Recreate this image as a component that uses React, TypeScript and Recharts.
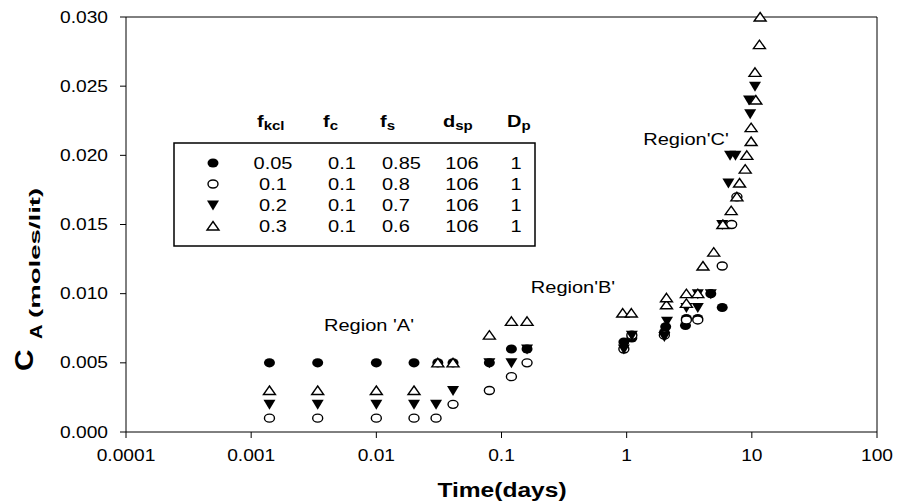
import React from "react"
import { ScatterChart, Scatter, XAxis, YAxis, ReferenceLine, Customized } from "recharts"

// time (days) / C_A (moles/lit) per run
const tKcl005 = [0.0014, 0.0034, 0.01, 0.02, 0.031, 0.041, 0.08, 0.12, 0.16, 0.95, 1.1, 2.0, 2.05, 2.95, 3.0, 3.7, 4.7, 5.8]
const cKcl005 = [0.005, 0.005, 0.005, 0.005, 0.005, 0.005, 0.005, 0.006, 0.006, 0.0065, 0.0068, 0.0072, 0.0076, 0.0077, 0.0082, 0.0082, 0.01, 0.009]

const tKcl01 = [0.0014, 0.0034, 0.01, 0.02, 0.03, 0.041, 0.08, 0.12, 0.16, 0.95, 1.1, 2.0, 3.0, 3.7, 5.8, 6.9, 7.6]
const cKcl01 = [0.001, 0.001, 0.001, 0.001, 0.001, 0.002, 0.003, 0.004, 0.005, 0.006, 0.007, 0.007, 0.0081, 0.0081, 0.012, 0.015, 0.017]

const tKcl02 = [0.0014, 0.0034, 0.01, 0.02, 0.03, 0.041, 0.08, 0.12, 0.16, 0.95, 1.1, 2.0, 2.1, 3.0, 3.7, 3.7, 4.7, 5.8, 6.5, 6.7, 7.4, 9.5, 9.7, 10.6]
const cKcl02 = [0.002, 0.002, 0.002, 0.002, 0.002, 0.003, 0.005, 0.005, 0.006, 0.006, 0.007, 0.0069, 0.008, 0.009, 0.009, 0.01, 0.01, 0.015, 0.018, 0.02, 0.02, 0.024, 0.023, 0.025]

const tKcl03 = [0.0014, 0.0034, 0.01, 0.02, 0.031, 0.041, 0.08, 0.12, 0.16, 0.93, 1.09, 2.08, 2.08, 3.0, 3.0, 3.7, 4.07, 4.96, 5.87, 6.84, 7.6, 7.98, 8.85, 9.12, 9.87, 9.87, 10.76, 10.6, 11.5, 11.65]
const cKcl03 = [0.003, 0.003, 0.003, 0.003, 0.005, 0.005, 0.007, 0.008, 0.008, 0.0086, 0.0086, 0.0092, 0.0097, 0.0093, 0.01, 0.01, 0.012, 0.013, 0.015, 0.016, 0.017, 0.018, 0.019, 0.02, 0.021, 0.022, 0.024, 0.026, 0.028, 0.03]

const xTicks = [0.0001, 0.001, 0.01, 0.1, 1, 10, 100]
const yTicks = [0, 0.005, 0.01, 0.015, 0.02, 0.025, 0.03]

// legend table rows: fkcl, fc, fs, dsp, Dp
const fKcl = ["0.05", "0.1", "0.2", "0.3"]
const fC = ["0.1", "0.1", "0.1", "0.1"]
const fS = ["0.85", "0.8", "0.7", "0.6"]
const dSp = ["106", "106", "106", "106"]
const dP = ["1", "1", "1", "1"]

const zip = (t: number[], c: number[]) => t.map((v, i) => ({ t: v, c: c[i] }))

const FONT = "'Liberation Sans', Arial, Helvetica, sans-serif"

function SText({ x, y, size = 16, bold = false, anchor = "middle", sx = 1.2, rotate = 0, dy, children }: any) {
  const tr = rotate
    ? `translate(${x},${y}) rotate(${rotate}) scale(${sx},1)`
    : `translate(${x},${y}) scale(${sx},1)`
  return (
    <text transform={tr} dy={dy} fontFamily={FONT} fontSize={size} fontWeight={bold ? "bold" : "normal"} textAnchor={anchor} fill="#000">
      {children}
    </text>
  )
}

const FilledCircle = ({ cx, cy }: any) => <ellipse cx={cx} cy={cy} rx={5.5} ry={4.6} fill="#000" />
const OpenCircle = ({ cx, cy }: any) => (
  <ellipse cx={cx} cy={cy} rx={5} ry={4} fill="#fff" stroke="#000" strokeWidth={1.4} />
)
const DownTri = ({ cx, cy }: any) => (
  <polygon points={`${cx - 6},${cy - 4.5} ${cx + 6},${cy - 4.5} ${cx},${cy + 5.5}`} fill="#000" />
)
const UpTri = ({ cx, cy }: any) => (
  <polygon points={`${cx},${cy - 4.5} ${cx + 6},${cy + 4} ${cx - 6},${cy + 4}`} fill="#fff" stroke="#000" strokeWidth={1.4} />
)

const XTick = ({ x, y, payload }: any) => (
  <SText x={x} y={y} dy="0.71em">{String(payload.value)}</SText>
)
const YTick = ({ x, y, payload }: any) => (
  <SText x={x} y={y} dy="0.35em" anchor="end">{Number(payload.value).toFixed(3)}</SText>
)

function Overlay() {
  const rows = [163, 184, 205, 226]
  const marks = [FilledCircle, OpenCircle, DownTri, UpTri]
  return (
    <g>
      {/* y axis title */}
      <SText x={33} y={371} size={25} bold anchor="start" sx={1.2} rotate={-90}>C</SText>
      <SText x={42} y={339} size={16} bold anchor="start" sx={1.25} rotate={-90}>A</SText>
      <SText x={40} y={318} size={14} bold anchor="start" sx={1.97} rotate={-90}>(moles/lit)</SText>
      {/* x axis title */}
      <SText x={502} y={497} size={21} bold sx={1.17}>Time(days)</SText>

      {/* region notes */}
      <SText x={369} y={331} sx={1.25}>Region 'A'</SText>
      <SText x={573} y={293} sx={1.25}>Region'B'</SText>
      <SText x={686} y={145} sx={1.25}>Region'C'</SText>

      {/* legend header */}
      <text transform="translate(257,127) scale(1.25,1)" fontFamily={FONT} fontSize={16} fontWeight="bold">
        f<tspan fontSize={12} dy={3}>kcl</tspan>
      </text>
      <text transform="translate(323,127) scale(1.25,1)" fontFamily={FONT} fontSize={16} fontWeight="bold">
        f<tspan fontSize={12} dy={3}>c</tspan>
      </text>
      <text transform="translate(380,127) scale(1.25,1)" fontFamily={FONT} fontSize={16} fontWeight="bold">
        f<tspan fontSize={12} dy={3}>s</tspan>
      </text>
      <text transform="translate(443,127) scale(1.25,1)" fontFamily={FONT} fontSize={16} fontWeight="bold">
        d<tspan fontSize={12} dy={3}>sp</tspan>
      </text>
      <text transform="translate(507,127) scale(1.25,1)" fontFamily={FONT} fontSize={16} fontWeight="bold">
        D<tspan fontSize={12} dy={3}>p</tspan>
      </text>

      {/* legend box */}
      <rect x={174} y={143} width={361} height={103} fill="none" stroke="#000" strokeWidth={1.5} />
      {rows.map((ry, i) => {
        const M = marks[i]
        return (
          <g key={i}>
            <M cx={213} cy={ry} />
            <SText x={273} y={ry + 6} sx={1.25}>{fKcl[i]}</SText>
            <SText x={342} y={ry + 6} sx={1.25}>{fC[i]}</SText>
            <SText x={382} y={ry + 6} sx={1.25} anchor="start">{fS[i]}</SText>
            <SText x={462} y={ry + 6} sx={1.25}>{dSp[i]}</SText>
            <SText x={516} y={ry + 6} sx={1.25}>{dP[i]}</SText>
          </g>
        )
      })}
    </g>
  )
}

export default function App() {
  return (
    <div style={{ position: "absolute", left: 0, top: 0, background: "#fff" }}>
      <ScatterChart width={897} height={501} margin={{ top: 17, right: 20, bottom: 29, left: 56 }}>
        <XAxis
          type="number"
          dataKey="t"
          scale="log"
          domain={[0.0001, 100]}
          ticks={xTicks}
          allowDataOverflow
          height={40}
          tickSize={6}
          tickMargin={12}
          stroke="#000"
          tick={(p: any) => <XTick {...p} />}
        />
        <YAxis
          type="number"
          dataKey="c"
          domain={[0, 0.03]}
          ticks={yTicks}
          width={70}
          tickSize={6}
          tickMargin={12}
          stroke="#000"
          tick={(p: any) => <YTick {...p} />}
        />
        <ReferenceLine y={0.03} stroke="#000" />
        <ReferenceLine x={100} stroke="#000" />
        <Scatter data={zip(tKcl005, cKcl005)} shape={FilledCircle} isAnimationActive={false} />
        <Scatter data={zip(tKcl01, cKcl01)} shape={OpenCircle} isAnimationActive={false} />
        <Scatter data={zip(tKcl02, cKcl02)} shape={DownTri} isAnimationActive={false} />
        <Scatter data={zip(tKcl03, cKcl03)} shape={UpTri} isAnimationActive={false} />
        <Customized component={Overlay} />
      </ScatterChart>
    </div>
  )
}
